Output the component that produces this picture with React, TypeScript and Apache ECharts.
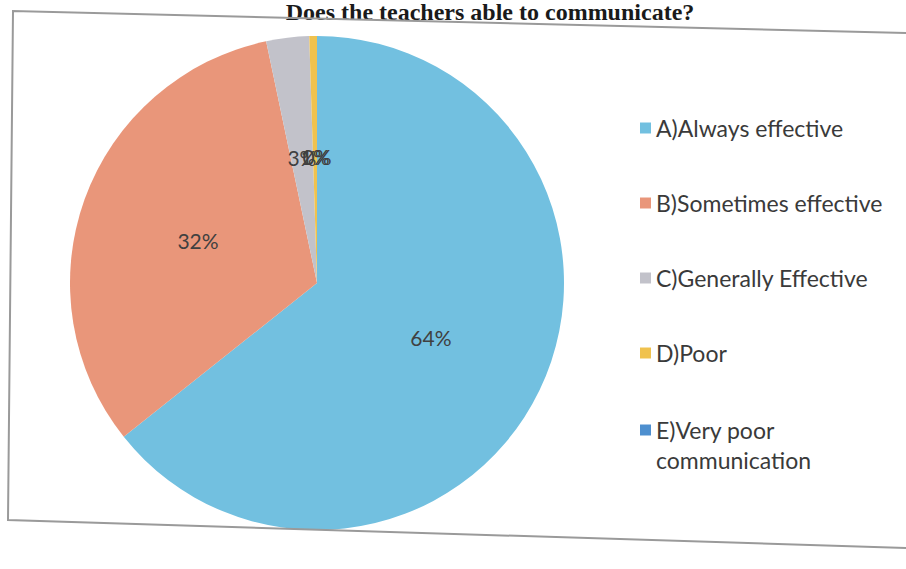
import React, { useEffect, useRef } from "react";
import * as echarts from "echarts";

const titleText = "Does the teachers able to communicate?";
const categories = [
  "A)Always effective",
  "B)Sometimes effective",
  "C)Generally Effective",
  "D)Poor",
  "E)Very poor\ncommunication",
];
const values = [64.3, 32.4, 2.8, 0.5, 0];
const colors = ["#72c0e0", "#e9967a", "#c2c2ca", "#f0c24e", "#4e8fcf"];

export default function App() {
  const ref = useRef<HTMLDivElement>(null);
  useEffect(() => {
    document.body.style.margin = "0";
    const chart = echarts.init(ref.current!, null, { renderer: "svg" });
    const data = categories.map((name, i) => ({
      name,
      value: values[i],
      itemStyle: { color: colors[i] },
    }));
    const legendBase = {
      orient: "vertical",
      left: 640,
      padding: 0,
      itemWidth: 11,
      itemHeight: 11,
      itemGap: 45,
      icon: "rect",
      textStyle: {
        fontFamily: "Lato",
        fontSize: 23,
        lineHeight: 30,
        color: "#3a3a3a",
      },
    };
    chart.setOption({
      animation: false,
      backgroundColor: "#ffffff",
      title: {
        text: titleText,
        left: 490,
        textAlign: "center",
        top: 0,
        padding: 0,
        textStyle: {
          fontFamily: "Liberation Serif",
          fontWeight: "bold",
          fontSize: 24,
          color: "#1a1a1a",
        },
      },
      legend: [
        { ...legendBase, top: 113, data: categories.slice(0, 4) },
        {
          ...legendBase,
          top: 385,
          data: categories.slice(4),
          formatter: (name: string) => "\n" + name,
        },
      ],
      graphic: [
        {
          type: "polyline",
          shape: {
            points: [
              [906, 33],
              [13, 11],
              [8, 520],
              [906, 548],
            ],
          },
          style: { stroke: "#9a9a9a", lineWidth: 2, fill: "none" },
          z: 10,
        },
      ],
      series: [
        {
          type: "pie",
          center: [317, 283],
          radius: 247,
          startAngle: 90,
          clockwise: true,
          avoidLabelOverlap: false,
          minShowLabelAngle: 0,
          stillShowZeroSum: true,
          data,
          label: {
            show: true,
            position: "inside",
            formatter: (p: any) => Math.round(p.percent) + "%",
            fontFamily: "Lato",
            fontSize: 21,
            color: "#404040",
          },
          labelLayout: { hideOverlap: false },
          labelLine: { show: false },
          itemStyle: { borderWidth: 0 },
          emphasis: { disabled: true },
        },
      ],
    });
    return () => chart.dispose();
  }, []);
  return (
    <div
      ref={ref}
      style={{ position: "absolute", left: 0, top: 0, width: 906, height: 569 }}
    />
  );
}
